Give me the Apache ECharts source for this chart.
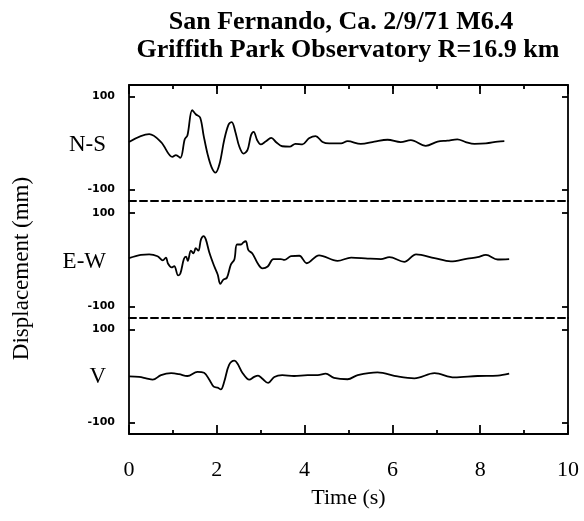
<!DOCTYPE html>
<html><head><meta charset="utf-8">
<script src="https://cdn.jsdelivr.net/npm/echarts@6/dist/echarts.min.js"></script>
<style>html,body{margin:0;padding:0;background:#fff}#c{width:584px;height:521px}</style>
</head><body><div id="c"></div>
<script>
const titleLines = ['San Fernando, Ca. 2/9/71 M6.4', 'Griffith Park Observatory R=16.9 km'];
const panelNames = ['N-S', 'E-W', 'V'];
const yAxisTitle = 'Displacement (mm)';
const xAxisTitle = 'Time (s)';
const yTickMin = -100, yTickMax = 100;
const yRange = 125;
const xMin = 0, xMax = 10, xStep = 2, xMinorStep = 1;

const nsTime = [0,0.46,0.73,0.99,1.07,1.17,1.27,1.33,1.44,1.52,1.62,1.70,1.79,1.88,1.97,2.06,2.17,2.27,2.34,2.42,2.51,2.61,2.70,2.78,2.84,2.92,3.00,3.11,3.24,3.36,3.49,3.66,3.79,3.95,4.10,4.25,4.41,4.56,4.83,4.98,5.28,5.59,5.89,6.19,6.42,6.76,7.03,7.25,7.48,7.67,7.87,8.13,8.40,8.55];
const nsDisp = [2,19,2,-30,-26,-32,8,16,71,62,55,16,-24,-52,-64,-46,7,40,45,25,-7,-23,-15,17,24,6,-3,3,11,1,-7,-8,-2,-3,10,15,2,-1,-1,4,-2,3,7,2,6,-6,3,5,8,2,-2,-1,3,4];

const ewTime = [0,0.27,0.46,0.65,0.77,0.84,0.89,0.97,1.03,1.12,1.17,1.25,1.30,1.34,1.41,1.47,1.52,1.58,1.64,1.70,1.75,1.83,1.94,2.02,2.08,2.15,2.23,2.32,2.40,2.46,2.55,2.61,2.66,2.72,2.81,2.93,3.04,3.16,3.29,3.46,3.54,3.69,3.88,4.05,4.33,4.75,5.06,5.44,5.74,5.93,6.27,6.54,6.96,7.33,7.71,7.94,8.13,8.40,8.66];
const ewDisp = [3,10,11,7,-2,4,-9,-17,-14,-34,-30,1,6,-3,19,13,24,19,43,50,43,15,-14,-32,-52,-43,-39,-11,0,32,32,37,39,20,13,-8,-19,-15,1,1,-1,7,8,-8,9,-3,4,2,1,5,-5,11,3,-4,2,5,10,0,1];

const vTime = [0,0.23,0.39,0.54,0.73,0.96,1.14,1.33,1.56,1.71,1.83,1.93,2.02,2.09,2.17,2.28,2.40,2.47,2.59,2.74,2.85,2.94,3.04,3.17,3.31,3.49,3.76,4.07,4.30,4.48,4.67,4.98,5.21,5.66,6.12,6.50,6.96,7.41,7.94,8.40,8.66];
const vDisp = [-1,-2,-5,-8,2,6,4,0,9,7,-8,-23,-25,-29,-12,24,33,27,6,-8,-2,1,-6,-15,-2,2,0,2,2,5,-4,-7,2,8,-1,-5,6,-3,0,1,5];

const SERIF = '"Liberation Serif", "Times New Roman", serif';
const panels = [
  {name: panelNames[0], t: nsTime, v: nsDisp},
  {name: panelNames[1], t: ewTime, v: ewDisp},
  {name: panelNames[2], t: vTime, v: vDisp}
];
const W = 584;
const gridTops = [85, 201, 318];
const gridHeights = [116, 117, 116];
const LEFT = 129, RIGHT = 16;
const TICK_Y = 6, TICK_MAJOR = 9, TICK_MINOR = 4;
const lineSt = () => ({color: '#000', width: 1.8});
const dashSt = () => ({color: '#000', width: 2, type: [7, 4]});
const off = {show: false};

// grids 0-2: panel frames; 3-5: left tick strips; 6-8: right tick strips;
// 9: top major tick strip; 10: top minor tick strip; 11: y title holder
const grid = [];
gridTops.forEach((top, i) => grid.push({left: LEFT, right: RIGHT, top: top, height: gridHeights[i]}));
const tickSpan = gridTops.map((top, i) => {
  const h = gridHeights[i];
  const pad = h * (yRange - yTickMax) / (2 * yRange);
  return {top: top + pad, height: h - 2 * pad};
});
tickSpan.forEach(s => grid.push({left: LEFT, width: TICK_Y, top: s.top, height: s.height}));
tickSpan.forEach(s => grid.push({left: W - RIGHT - TICK_Y, width: TICK_Y, top: s.top, height: s.height}));
grid.push({left: LEFT, right: RIGHT, top: gridTops[0], height: TICK_MAJOR});
grid.push({left: LEFT, right: RIGHT, top: gridTops[0], height: TICK_MINOR});
grid.push({left: LEFT, right: RIGHT, top: 210, height: 117});

const plainX = g => ({gridIndex: g, type: 'value', min: xMin, max: xMax, interval: xStep,
  axisLine: off, axisTick: off, axisLabel: off, splitLine: off});

const xAxis = [
  {gridIndex: 0, type: 'value', min: xMin, max: xMax, interval: xStep, position: 'bottom',
   axisLine: {onZero: false, lineStyle: dashSt()}, axisTick: off, axisLabel: off, splitLine: off},
  {gridIndex: 1, type: 'value', min: xMin, max: xMax, interval: xStep, position: 'bottom',
   axisLine: {onZero: false, lineStyle: dashSt()}, axisTick: off, axisLabel: off, splitLine: off},
  {gridIndex: 2, type: 'value', min: xMin, max: xMax, interval: xStep, position: 'bottom',
   axisLine: {onZero: false, lineStyle: lineSt()},
   axisTick: {show: true, inside: true, length: TICK_MAJOR, lineStyle: lineSt()},
   minorTick: {show: true, splitNumber: 2, length: TICK_MINOR, lineStyle: lineSt()},
   axisLabel: {show: true, margin: 25, color: '#000', fontFamily: SERIF, fontSize: 22},
   splitLine: off,
   name: xAxisTitle, nameLocation: 'middle', nameGap: 53,
   nameTextStyle: {color: '#000', fontFamily: SERIF, fontSize: 22}},
  plainX(3), plainX(4), plainX(5), plainX(6), plainX(7), plainX(8),
  {gridIndex: 9, type: 'value', min: xMin, max: xMax, interval: xStep, position: 'top',
   axisLine: {show: true, onZero: false, lineStyle: lineSt()}, axisTick: off, axisLabel: off,
   splitLine: {show: true, lineStyle: lineSt()}},
  {gridIndex: 10, type: 'value', min: xMin, max: xMax, interval: xMinorStep, position: 'top',
   axisLine: off, axisTick: off, axisLabel: off,
   splitLine: {show: true, lineStyle: lineSt()}},
  plainX(11)
];

const yAxis = [];
[0, 1, 2].forEach(i => {
  ['left', 'right'].forEach(pos => yAxis.push({gridIndex: i, type: 'value', min: -yRange, max: yRange, position: pos,
    axisLine: {show: true, onZero: false, lineStyle: lineSt()},
    axisTick: off, axisLabel: off, splitLine: off}));
});
[3, 4, 5].forEach(g => yAxis.push({gridIndex: g, type: 'value', min: yTickMin, max: yTickMax,
  interval: yTickMax - yTickMin, position: 'left',
  axisLine: off, axisTick: off,
  axisLabel: {show: true, margin: 14, color: '#000', fontWeight: 'bold',
    fontFamily: '"DejaVu Sans", sans-serif', fontSize: 11},
  splitLine: {show: true, lineStyle: lineSt()}}));
[6, 7, 8].forEach(g => yAxis.push({gridIndex: g, type: 'value', min: yTickMin, max: yTickMax,
  interval: yTickMax - yTickMin, position: 'right',
  axisLine: off, axisTick: off, axisLabel: off,
  splitLine: {show: true, lineStyle: lineSt()}}));
[9, 10].forEach(g => yAxis.push({gridIndex: g, type: 'value', min: 0, max: 1,
  axisLine: off, axisTick: off, axisLabel: off, splitLine: off}));
yAxis.push({gridIndex: 11, type: 'value', min: -yRange, max: yRange, position: 'left',
  axisLine: off, axisTick: off, axisLabel: off, splitLine: off,
  name: yAxisTitle, nameLocation: 'middle', nameRotate: 90, nameGap: 96,
  nameTextStyle: {color: '#000', fontFamily: SERIF, fontSize: 23}});

const series = panels.map((p, i) => ({
  type: 'line', xAxisIndex: i, yAxisIndex: i * 2,
  data: p.t.map((t, k) => [t, p.v[k]]),
  showSymbol: false, smooth: 0.35,
  lineStyle: {color: '#000', width: 1.8}
}));

const title = [
  {text: titleLines[0], left: 341, top: 8, textAlign: 'center', padding: 0,
   textStyle: {fontFamily: SERIF, fontSize: 26, fontWeight: 'bold', color: '#000', lineHeight: 28}},
  {text: titleLines[1], left: 348, top: 36, textAlign: 'center', padding: 0,
   textStyle: {fontFamily: SERIF, fontSize: 26, fontWeight: 'bold', color: '#000', lineHeight: 28}}
];
const labelY = [145, 262, 377];
panels.forEach((p, i) => {
  title.push({text: p.name, left: 106, top: labelY[i] - 12, textAlign: 'right', padding: 0,
    textStyle: {fontFamily: SERIF, fontSize: 23, fontWeight: 'normal', color: '#000', lineHeight: 24}});
});

const chart = echarts.init(document.getElementById('c'));
chart.setOption({animation: false, title, grid, xAxis, yAxis, series});
</script></body></html>
